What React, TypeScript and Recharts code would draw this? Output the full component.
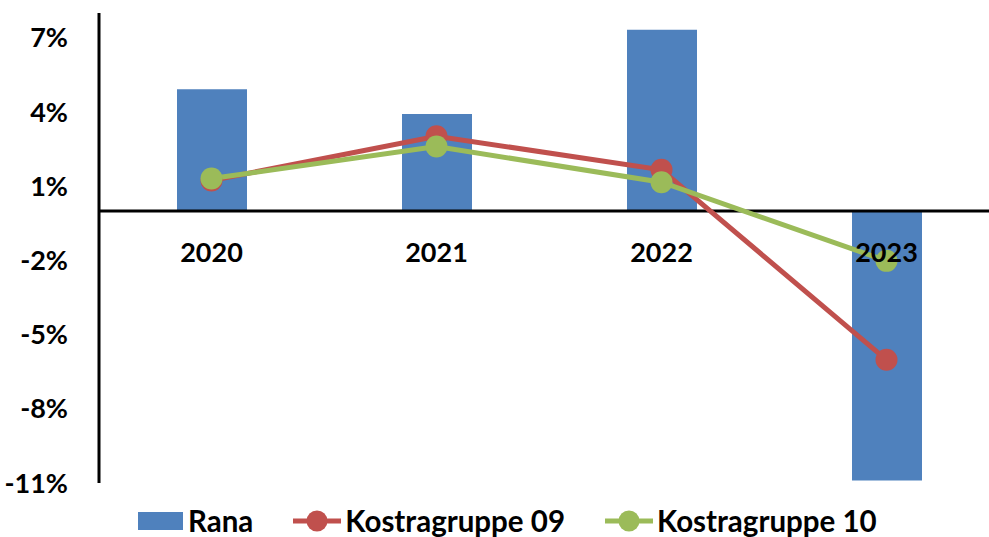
import React from 'react';
import { ComposedChart, Bar, Line, XAxis, YAxis, ReferenceLine, Legend, LabelList } from 'recharts';

const years = ['2020', '2021', '2022', '2023'];
const rana = [4.92, 3.92, 7.32, -10.9];
const kostra09 = [1.23, 3.02, 1.66, -6.02];
const kostra10 = [1.31, 2.6, 1.16, -2.02];
const yTicks = [-11, -8, -5, -2, 1, 4, 7];
const seriesOrder = ['Rana', 'Kostragruppe 09', 'Kostragruppe 10'];

const data = years.map((y, i) => ({
  year: y,
  Rana: rana[i],
  'Kostragruppe 09': kostra09[i],
  'Kostragruppe 10': kostra10[i],
}));

const FONT = 'Lato, "Open Sans", sans-serif';
const BLUE = '#4F81BD';
const RED = '#C0504D';
const GREEN = '#9BBB59';

const YearLabel = (props: any) => {
  const { x, y, value } = props;
  return (
    <text x={x} y={y + 51} textAnchor="middle" fontFamily={FONT} fontWeight={700} fontSize={27} fill="#000">
      {value}
    </text>
  );
};

const LegendContent = (props: any) => {
  const payload = props.payload || [];
  const items = seriesOrder
    .map((name) => payload.find((p: any) => p.value === name))
    .filter(Boolean);
  return (
    <div style={{ height: 54, display: 'flex', alignItems: 'center', paddingLeft: 138, paddingTop: 22, boxSizing: 'border-box', fontFamily: FONT, fontWeight: 700, fontSize: 29.5, color: '#000' }}>
      {items.map((it: any, i: number) => (
        <div key={i} style={{ display: 'flex', alignItems: 'center', marginRight: 40 }}>
          {it.value === 'Rana' ? (
            <svg width={45} height={18} style={{ marginRight: 5 }}>
              <rect x={0} y={0} width={45} height={18} fill={BLUE} />
            </svg>
          ) : (
            <svg width={48} height={24} style={{ marginRight: 4 }}>
              <line x1={0} y1={12} x2={48} y2={12} stroke={it.color} strokeWidth={5} />
              <circle cx={24} cy={12} r={10.5} fill={it.color} />
            </svg>
          )}
          <span style={{ lineHeight: '30px' }}>{it.value}</span>
        </div>
      ))}
    </div>
  );
};

export default function App() {
  return (
    <div style={{ position: 'absolute', left: 0, top: 0, width: 989, height: 537, overflow: 'hidden', background: '#fff' }}>
      <ComposedChart width={1000} height={537} data={data} margin={{ top: 13, right: 1, bottom: 0, left: 0 }}>
        <XAxis dataKey="year" hide />
        <YAxis
          type="number"
          domain={[-11, 8]}
          ticks={yTicks}
          allowDataOverflow
          width={99}
          tickLine={false}
          tickSize={0}
          tickMargin={31}
          axisLine={{ stroke: '#000', strokeWidth: 3 }}
          tickFormatter={(v: number) => `${v}%`}
          tick={{ fill: '#000', fontFamily: FONT, fontWeight: 700, fontSize: 27 }}
        />
        <Bar dataKey="Rana" fill={BLUE} barSize={70} isAnimationActive={false} />
        <ReferenceLine y={0} stroke="#000" strokeWidth={3} />
        <Line dataKey="Kostragruppe 09" stroke={RED} strokeWidth={5} dot={{ r: 11, fill: RED, stroke: 'none' }} activeDot={false} isAnimationActive={false} />
        <Line dataKey="Kostragruppe 10" stroke={GREEN} strokeWidth={5} dot={{ r: 11, fill: GREEN, stroke: 'none' }} activeDot={false} isAnimationActive={false} />
        <Line dataKey={() => 0} name="axislabels" stroke="none" dot={false} activeDot={false} legendType="none" isAnimationActive={false}>
          <LabelList dataKey="year" content={YearLabel} />
        </Line>
        <Legend verticalAlign="bottom" height={54} content={LegendContent} />
      </ComposedChart>
    </div>
  );
}
